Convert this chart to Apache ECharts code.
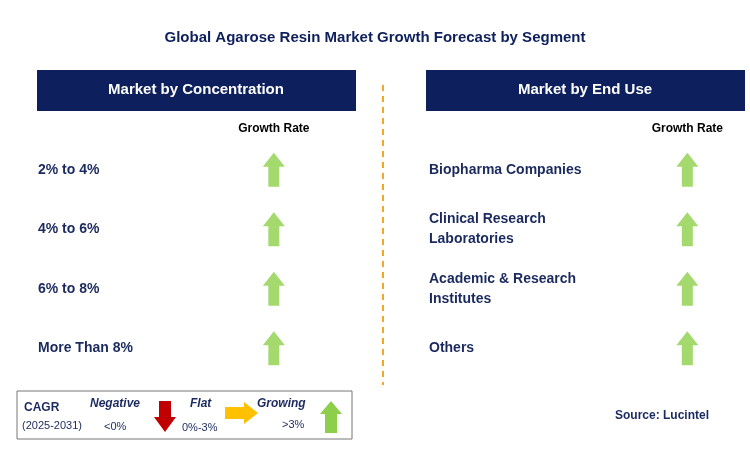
<!DOCTYPE html>
<html><head><meta charset="utf-8">
<script src="https://cdn.jsdelivr.net/npm/echarts@6/dist/echarts.min.js"></script>
<style>html,body{margin:0;padding:0;background:#fff}#c{width:750px;height:466px}</style>
</head><body><div id="c"></div>
<script>
const title = 'Global Agarose Resin Market Growth Forecast by Segment';
const leftHeader = 'Market by Concentration';
const rightHeader = 'Market by End Use';
const colHeaders = ['', ' ', 'Growth Rate'];
const concentrationSegments = ['2% to 4%', '4% to 6%', '6% to 8%', 'More Than 8%'];
const concentrationTrend = ['Growing', 'Growing', 'Growing', 'Growing'];
const endUseSegments = ['Biopharma Companies', 'Clinical Research\nLaboratories', 'Academic & Research\nInstitutes', 'Others'];
const endUseTrend = ['Growing', 'Growing', 'Growing', 'Growing'];

const navy = '#0d1f5c';
const txt = '#1b2a5e';
const green = '#8dcf4a';
const upArrow = 'path://M11,0 L22,14 L16.5,14 L16.5,34 L5.5,34 L5.5,14 L0,14 Z';
const font = 'Liberation Sans, Arial, sans-serif';

function grid(left, width) { return {left: left, width: width, top: 140, height: 238}; }
function xAx(i) {
  return {gridIndex: i, type: 'category', data: colHeaders, position: 'top',
    axisLine: {show: false}, axisTick: {show: false}, splitLine: {show: false},
    axisLabel: {color: '#000', fontWeight: 'bold', fontSize: 12, fontFamily: font, margin: 5, interval: 0}};
}
function yAx(i, cats) {
  return {gridIndex: i, type: 'category', data: cats, inverse: true,
    axisLine: {show: false}, axisTick: {show: false}, splitLine: {show: false},
    axisLabel: {inside: true, align: 'left', color: txt, fontWeight: 'bold', fontSize: 14, lineHeight: 20, fontFamily: font, margin: 0}};
}
function ser(i, cats, trend) {
  return {type: 'scatter', xAxisIndex: i, yAxisIndex: i, symbol: upArrow, symbolSize: [22, 34],
    itemStyle: {color: green}, silent: true,
    data: cats.map((c, k) => trend[k] === 'Growing' ? [colHeaders[2], c] : null).filter(Boolean)};
}

const chart = echarts.init(document.getElementById('c'));
chart.setOption({
  animation: false,
  title: {text: title, left: 'center', top: 25, textStyle: {color: navy, fontSize: 15, fontWeight: 'bold', fontFamily: font}},
  grid: [grid(38, 283), grid(429, 310)],
  xAxis: [xAx(0), xAx(1)],
  yAxis: [yAx(0, concentrationSegments), yAx(1, endUseSegments)],
  series: [ser(0, concentrationSegments, concentrationTrend), ser(1, endUseSegments, endUseTrend)],
  graphic: [
    {type: 'rect', shape: {x: 37, y: 70, width: 319, height: 41}, style: {fill: navy}},
    {type: 'text', x: 196, y: 90, style: {text: leftHeader, fill: '#fff', font: 'bold 15px ' + font, align: 'center', verticalAlign: 'middle'}},
    {type: 'rect', shape: {x: 426, y: 70, width: 319, height: 41}, style: {fill: navy}},
    {type: 'text', x: 585, y: 90, style: {text: rightHeader, fill: '#fff', font: 'bold 15px ' + font, align: 'center', verticalAlign: 'middle'}},
    {type: 'line', shape: {x1: 383, y1: 85, x2: 383, y2: 385}, style: {stroke: '#f5a623', lineWidth: 2, lineDash: [6, 5]}},
    {type: 'rect', shape: {x: 17, y: 391, width: 335, height: 48}, style: {fill: '#fff', stroke: '#777', lineWidth: 1}},
    {type: 'text', x: 24, y: 402, style: {text: 'CAGR', fill: txt, font: 'bold 12px ' + font}},
    {type: 'text', x: 22, y: 420, style: {text: '(2025-2031)', fill: txt, font: '11px ' + font}},
    {type: 'text', x: 90, y: 398, style: {text: 'Negative', fill: txt, font: 'italic bold 12px ' + font}},
    {type: 'text', x: 104, y: 421, style: {text: '<0%', fill: txt, font: '11px ' + font}},
    {type: 'polygon', shape: {points: [[159,401],[171,401],[171,417],[176,417],[165,432],[154,417],[159,417]]}, style: {fill: '#c00000'}},
    {type: 'text', x: 190, y: 398, style: {text: 'Flat', fill: txt, font: 'italic bold 12px ' + font}},
    {type: 'text', x: 182, y: 422, style: {text: '0%-3%', fill: txt, font: '11px ' + font}},
    {type: 'polygon', shape: {points: [[225,407],[244,407],[244,402],[258,413],[244,424],[244,419],[225,419]]}, style: {fill: '#ffc000'}},
    {type: 'text', x: 257, y: 398, style: {text: 'Growing', fill: txt, font: 'italic bold 12px ' + font}},
    {type: 'text', x: 282, y: 419, style: {text: '>3%', fill: txt, font: '11px ' + font}},
    {type: 'polygon', shape: {points: [[331,401],[342,414],[337,414],[337,433],[325,433],[325,414],[320,414]]}, style: {fill: green}},
    {type: 'text', x: 615, y: 410, style: {text: 'Source: Lucintel', fill: txt, font: 'bold 12px ' + font}}
  ]
});
</script></body></html>
